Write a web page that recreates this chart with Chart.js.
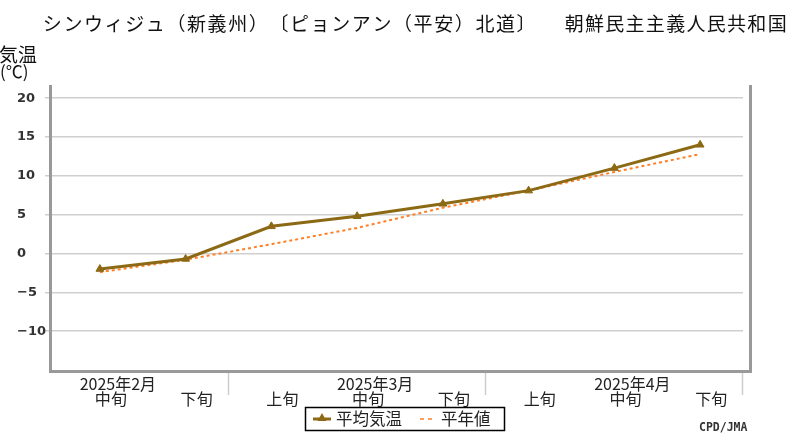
<!DOCTYPE html>
<html>
<head>
<meta charset="utf-8">
<script src="https://cdn.jsdelivr.net/npm/chart.js@4"></script>
<style>
html,body{margin:0;padding:0;background:#fff;}
#wrap{width:800px;height:440px;position:relative;}
</style>
</head>
<body>
<div id="wrap"><canvas id="c" width="800" height="440"></canvas></div>
<script>
const titleLocation = 'シンウィジュ（新義州）〔ピョンアン（平安）北道〕';
const titleCountry = '朝鮮民主主義人民共和国';
const yTitle1 = '気温';
const yTitle2 = '(℃)';
const periodLabels = ['中旬','下旬','上旬','中旬','下旬','上旬','中旬','下旬'];
const monthLabels = ['2025年2月','2025年3月','2025年4月'];
const monthIndex = [0, 3, 6];
const monthEndIndex = [1, 4, 7];
const avgTemp = [-2.0, -0.7, 3.5, 4.8, 6.4, 8.1, 11.0, 14.0];
const normalTemp = [-2.4, -0.8, 1.2, 3.3, 5.9, 8.1, 10.5, 12.8];
const yTicks = [-10, -5, 0, 5, 10, 15, 20];
const yMin = -15, yMax = 21.7;
const seriesNames = ['平均気温', '平年値'];
const credit = 'CPD/JMA';

const JP = '"Noto Sans CJK JP", sans-serif';

function gridText(ctx, text, x0, adv, y) {
  Array.from(text).forEach((ch, i) => {
    ctx.fillText(ch, x0 + adv * i + adv / 2, y);
  });
}

const decor = {
  id: 'decor',
  afterDraw(chart) {
    const ctx = chart.ctx;
    const ca = chart.chartArea;
    const xs = chart.scales.x;
    const half = (xs.getPixelForValue(1) - xs.getPixelForValue(0)) / 2;
    ctx.save();
    // title on a full-width character grid
    ctx.fillStyle = '#111';
    ctx.font = '19px ' + JP;
    ctx.textAlign = 'center';
    ctx.textBaseline = 'middle';
    gridText(ctx, titleLocation, 42, 20.6, 24);
    gridText(ctx, titleCountry, 564, 20.3, 24);
    // y title
    ctx.textAlign = 'left';
    ctx.font = '19px ' + JP;
    ctx.fillText(yTitle1, -1, 55);
    ctx.font = '17px ' + JP;
    ctx.fillText(yTitle2, 0, 72);
    // frame
    ctx.strokeStyle = '#999';
    ctx.lineWidth = 3;
    ctx.beginPath();
    ctx.moveTo(ca.left - 6.5, ca.top);
    ctx.lineTo(ca.left - 6.5, ca.bottom + 1.5);
    ctx.lineTo(ca.right + 7.5, ca.bottom + 1.5);
    ctx.lineTo(ca.right + 7.5, ca.top);
    ctx.stroke();
    // month separators
    ctx.strokeStyle = '#ccc';
    ctx.lineWidth = 1.5;
    monthEndIndex.forEach(i => {
      const x = Math.round(xs.getPixelForValue(i) + half) - 0.5;
      ctx.beginPath();
      ctx.moveTo(x, ca.bottom + 3);
      ctx.lineTo(x, ca.bottom + 25);
      ctx.stroke();
    });
    // month labels
    ctx.fillStyle = '#222';
    ctx.font = '16px ' + JP;
    ctx.textAlign = 'center';
    ctx.textBaseline = 'middle';
    monthIndex.forEach((i, k) => {
      ctx.fillText(monthLabels[k], xs.getPixelForValue(i) + 18, ca.bottom + 14);
    });
    // legend
    const ds = chart.data.datasets;
    ctx.strokeStyle = '#000';
    ctx.lineWidth = 1.5;
    ctx.strokeRect(305.5, 407.5, 199, 23);
    ctx.textAlign = 'left';
    ctx.font = '16.5px ' + JP;
    ctx.strokeStyle = ds[0].borderColor;
    ctx.lineWidth = 3;
    ctx.beginPath(); ctx.moveTo(313, 419); ctx.lineTo(331, 419); ctx.stroke();
    ctx.fillStyle = ds[0].borderColor;
    ctx.beginPath(); ctx.moveTo(322, 413); ctx.lineTo(326.5, 421); ctx.lineTo(317.5, 421); ctx.closePath(); ctx.fill();
    ctx.fillStyle = '#222';
    ctx.fillText(ds[0].label, 336, 419);
    ctx.strokeStyle = ds[1].borderColor;
    ctx.lineWidth = 1.5;
    ctx.setLineDash([4, 4]);
    ctx.beginPath(); ctx.moveTo(420, 419); ctx.lineTo(436, 419); ctx.stroke();
    ctx.setLineDash([]);
    ctx.fillText(ds[1].label, 441, 419);
    // credit
    ctx.fillStyle = '#333';
    ctx.font = 'bold 11.5px "DejaVu Sans Mono", monospace';
    ctx.fillText(credit, 699, 428);
    ctx.restore();
  }
};

new Chart(document.getElementById('c'), {
  type: 'line',
  data: {
    labels: periodLabels,
    datasets: [
      {
        label: seriesNames[0],
        data: avgTemp,
        borderColor: '#8c6914',
        backgroundColor: '#8c6914',
        borderWidth: 3,
        pointStyle: 'triangle',
        pointRadius: 4.5,
        pointBorderWidth: 1,
        tension: 0,
        order: 1
      },
      {
        label: seriesNames[1],
        data: normalTemp,
        borderColor: '#ff7f27',
        backgroundColor: '#ff7f27',
        borderWidth: 2,
        borderDash: [3, 3],
        pointRadius: 0,
        tension: 0,
        order: 2
      }
    ]
  },
  options: {
    responsive: false,
    animation: false,
    devicePixelRatio: 1,
    layout: { padding: { left: 17, right: 57, top: 85, bottom: 30 } },
    plugins: {
      legend: { display: false },
      title: { display: false },
      tooltip: { enabled: false }
    },
    scales: {
      x: {
        type: 'category',
        offset: true,
        grid: { display: false, drawTicks: false },
        border: { display: false },
        ticks: {
          autoSkip: false,
          maxRotation: 0,
          labelOffset: 11,
          padding: 19,
          color: '#222',
          font: { family: JP, size: 16 }
        },
        afterFit(s) { s.height = 40; }
      },
      y: {
        min: yMin,
        max: yMax,
        border: { display: false },
        grid: { color: '#cfcfcf', lineWidth: 1.5, tickLength: 12, drawTicks: true },
        afterBuildTicks(s) { s.ticks = yTicks.map(v => ({ value: v })); },
        ticks: {
          crossAlign: 'far',
          color: '#333',
          font: { family: '"DejaVu Sans", sans-serif', size: 13, weight: 'bold' },
          callback: v => String(v).replace('-', '\u2212')
        },
        afterFit(s) { s.width = 40; }
      }
    }
  },
  plugins: [decor]
});
</script>
</body>
</html>
